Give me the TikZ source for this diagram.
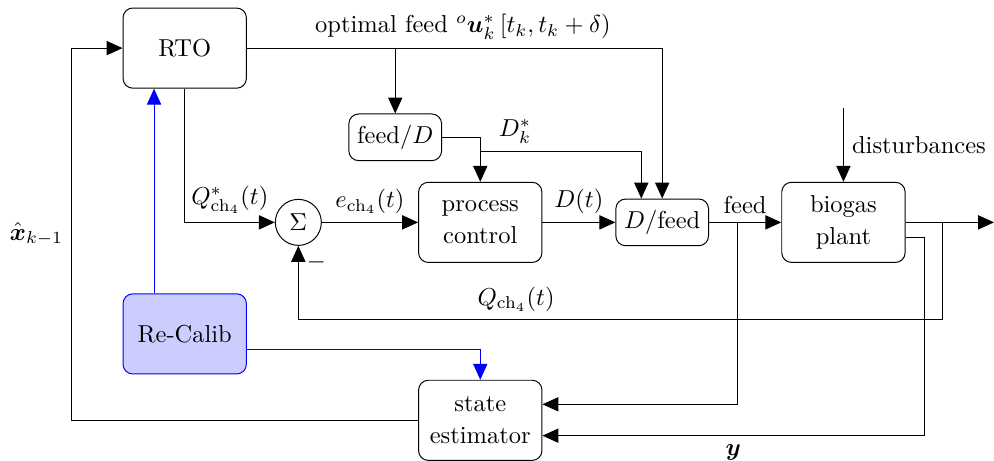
\documentclass[tikz,border=0pt]{standalone}
\usepackage{amsmath,amssymb}
\usetikzlibrary{calc,positioning,arrows.meta}

\begin{document}
\begin{tikzpicture}[
  block/.style={draw,rounded corners=4pt,minimum width=1.77cm,minimum height=1.15cm,align=center},
  smallblock/.style={draw,rounded corners=4pt,minimum width=1.33cm,minimum height=0.67cm,inner sep=2pt},
  sumnode/.style={draw,circle,minimum size=0.66cm,inner sep=0pt},
  arr/.style={-{Triangle[length=6.5pt,width=5.8pt]}},
  calib/.style={arr,blue}
]
  \useasboundingbox (0,0) rectangle (14.26,-6.60);
  % blocks
  \node[block] (rto) at (2.65,-0.69) {RTO};
  \node[smallblock] (feedD) at (5.67,-1.97) {feed$/D$};
  \node[sumnode] (sum) at (4.28,-3.19) {$\Sigma$};
  \node[block] (ctrl) at (6.89,-3.19) {process\\[1pt]control};
  \node[smallblock] (Dfeed) at (9.50,-3.19) {$D/$feed};
  \node[block] (plant) at (12.10,-3.19) {biogas\\[1pt]plant};
  \node[block,draw=blue,fill=blue!20] (recalib) at (2.65,-4.79) {Re-Calib};
  \node[block] (est) at (6.89,-6.03) {state\\[1pt]estimator};
  % free ends and taps
  \coordinate (dist) at (12.10,-1.55);
  \coordinate (out) at (14.26,-3.19);
  \coordinate (dk) at (6.89,-2.18);
  \coordinate (ftap) at (10.58,-3.19);
  \coordinate (qtap) at (13.52,-3.19);
  \coordinate (qlow) at (13.52,-4.59);
  \coordinate (ycorner) at (13.26,-6.25);
  \coordinate (xleft) at (1.03,-6.03);
  % forward path
  \draw[arr] (rto.east) -| (Dfeed.north)
    node[pos=0.26,above] (optlbl) {optimal feed ${}^{o}\boldsymbol{u}_k^*\,[t_k,t_k+\delta)$};
  \draw[arr] (feedD |- rto.east) -- (feedD.north);
  \draw[arr] (feedD.east) -| (ctrl.north);
  \draw[arr] (dk) -| ($(Dfeed.north)+(-0.30,0)$) node[pos=0.108,above] (dklbl) {$D_k^*$};
  \draw[arr] (rto.south) |- (sum.west) node[pos=0.75,above] (qreflbl) {$Q^*_{\mathrm{ch}_4}(t)$};
  \draw[arr] (sum.east) -- (ctrl.west) node[midway,above] (elbl) {$e_{\mathrm{ch}_4}(t)$};
  \draw[arr] (ctrl.east) -- (Dfeed.west) node[midway,above] (dlbl) {$D(t)$};
  \draw[arr] (Dfeed.east) -- (plant.west) node[midway,above] (feedlbl) {feed};
  \draw[arr] (dist) -- (plant.north) node[midway,right] (distlbl) {disturbances};
  \draw[arr] (plant.east) -- (out);
  % feedback
  \draw[arr] (qtap) -- (qlow) -| (sum.south)
    node[pos=0.331,above] (qlbl) {$Q_{\mathrm{ch}_4}(t)$}
    node[pos=0.888,right] (minus) {$-$};
  \draw[arr] (ftap) |- ($(est.east)+(0,0.23)$);
  \draw[arr] ($(plant.east)+(0,-0.21)$) -| (ycorner) -- ($(est.east)+(0,-0.22)$)
    node[midway,below] (ylbl) {$\boldsymbol{y}$};
  \draw[arr] (est.west) -- (xleft) |- (rto.west)
    node[pos=0.25,left] (xlbl) {$\hat{\boldsymbol{x}}_{k-1}$};
  % recalibration
  \draw[calib] ($(recalib.north)+(-0.44,0)$) -- ($(rto.south)+(-0.44,0)$);
  \draw[calib] ($(recalib.east)+(0,-0.22)$) -| (est.north);
\end{tikzpicture}
\end{document}
